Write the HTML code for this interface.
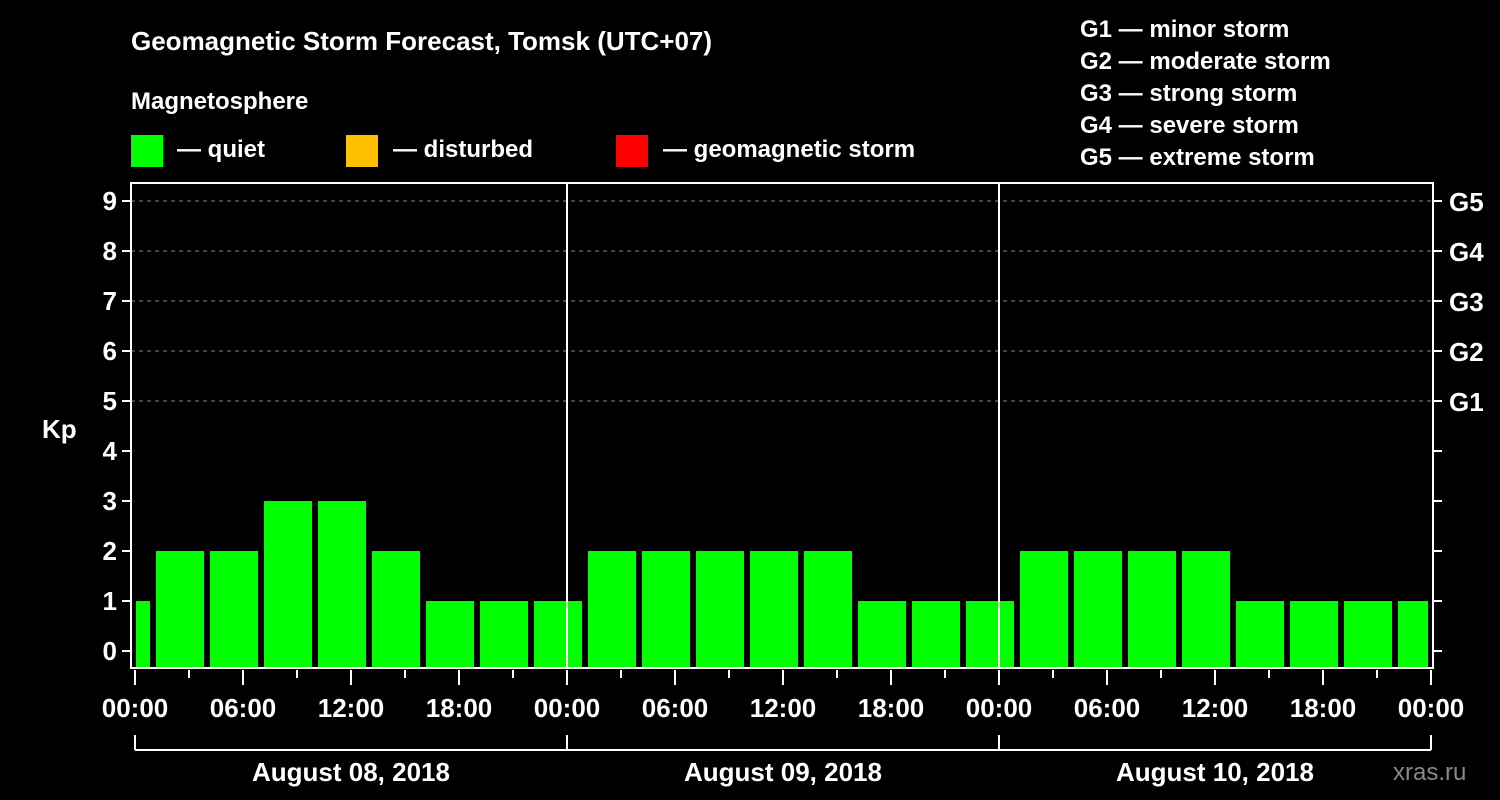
<!DOCTYPE html>
<html><head><meta charset="utf-8"><style>
body{margin:0;background:#000;}
svg{display:block;font-family:"Liberation Sans",Arial,sans-serif;font-weight:bold;}
</style></head><body>
<svg id="c" width="1500" height="800" viewBox="0 0 1500 800">
<rect width="1500" height="800" fill="#000"/>
<text x="131" y="50" fill="#fff" font-size="26">Geomagnetic Storm Forecast, Tomsk (UTC+07)</text>
<text x="131" y="109" fill="#fff" font-size="24">Magnetosphere</text>
<g><rect x="131" y="135" width="32" height="32" fill="#00ff00"/><text x="177" y="157" fill="#fff" font-size="24">— quiet</text></g>
<g><rect x="346" y="135" width="32" height="32" fill="#ffc000"/><text x="393" y="157" fill="#fff" font-size="24">— disturbed</text></g>
<g><rect x="616" y="135" width="32" height="32" fill="#ff0000"/><text x="663" y="157" fill="#fff" font-size="24">— geomagnetic storm</text></g>
<g fill="#fff" font-size="24">
<text x="1080" y="37">G1 — minor storm</text><text x="1080" y="69">G2 — moderate storm</text><text x="1080" y="101">G3 — strong storm</text><text x="1080" y="133">G4 — severe storm</text><text x="1080" y="165">G5 — extreme storm</text>
</g>
<text x="42" y="438" fill="#fff" font-size="26">Kp</text>
<text x="1393" y="780" fill="#888" font-size="24" font-weight="normal">xras.ru</text>
<g id="g"></g>
</svg>
<script>
const kpValues=[1,2,2,3,3,2,1,1,1,2,2,2,2,2,1,1,1,2,2,2,2,1,1,1,1];
const startHour=-2;
const yTicks=[0,1,2,3,4,5,6,7,8,9];
const gLabels=["G1","G2","G3","G4","G5"];
const xTickLabels=["00:00","06:00","12:00","18:00","00:00","06:00","12:00","18:00","00:00","06:00","12:00","18:00","00:00"];
const dayLabels=["August 08, 2018","August 09, 2018","August 10, 2018"];
const NS="http://www.w3.org/2000/svg",g=document.getElementById('g');
const L=131,R=1433,T=183,B=668,X0=135,PH=18;
const x=h=>X0+h*PH, y=v=>651-v*50;
function el(t,a,txt){const e=document.createElementNS(NS,t);for(const k in a)e.setAttribute(k,a[k]);if(txt!=null)e.textContent=txt;g.appendChild(e);return e;}
for(let v=5;v<=9;v++){const e=el('line',{x1:L,x2:R,y1:y(v),y2:y(v),stroke:'#888','stroke-dasharray':'4 4','stroke-width':1});

}
kpValues.forEach((v,i)=>{const h=startHour+i*3;let x1=Math.max(x(h)+3,L+5),x2=Math.min(x(h+3)-3,R-5);
const e=el('rect',{x:x1,y:y(v),width:x2-x1,height:B-y(v),fill:'#00ff00'});

});
for(let d=1;d<3;d++){const e=el('line',{x1:x(d*24),x2:x(d*24),y1:T,y2:B,stroke:'#fff','stroke-width':2});

}
const f=el('rect',{x:L,y:T,width:R-L,height:B-T,fill:'none',stroke:'#fff','stroke-width':2});


yTicks.forEach(v=>{el('line',{x1:L-9,x2:L,y1:y(v),y2:y(v),stroke:'#fff','stroke-width':2});el('line',{x1:R,x2:R+9,y1:y(v),y2:y(v),stroke:'#fff','stroke-width':2});
const t=el('text',{x:L-14,y:y(v)+9,fill:'#fff','font-size':26,'text-anchor':'end'},v);

});
gLabels.forEach((s,i)=>{const t=el('text',{x:1449,y:y(5+i)+10,fill:'#fff','font-size':26},s);

});
for(let h=0;h<=72;h+=3){const maj=h%6==0;el('line',{x1:x(h),x2:x(h),y1:B+2,y2:B+(maj?17:10),stroke:'#fff','stroke-width':2});}
xTickLabels.forEach((s,i)=>{const t=el('text',{x:x(i*6),y:717,fill:'#fff','font-size':26,'text-anchor':'middle'},s);

});
el('line',{x1:x(0),x2:x(72),y1:750,y2:750,stroke:'#fff','stroke-width':2});
for(let d=0;d<=3;d++)el('line',{x1:x(d*24),x2:x(d*24),y1:735,y2:750,stroke:'#fff','stroke-width':2});
dayLabels.forEach((s,i)=>{const t=el('text',{x:x(i*24+12),y:781,fill:'#fff','font-size':26,'text-anchor':'middle'},s);

});
</script>
</body></html>
